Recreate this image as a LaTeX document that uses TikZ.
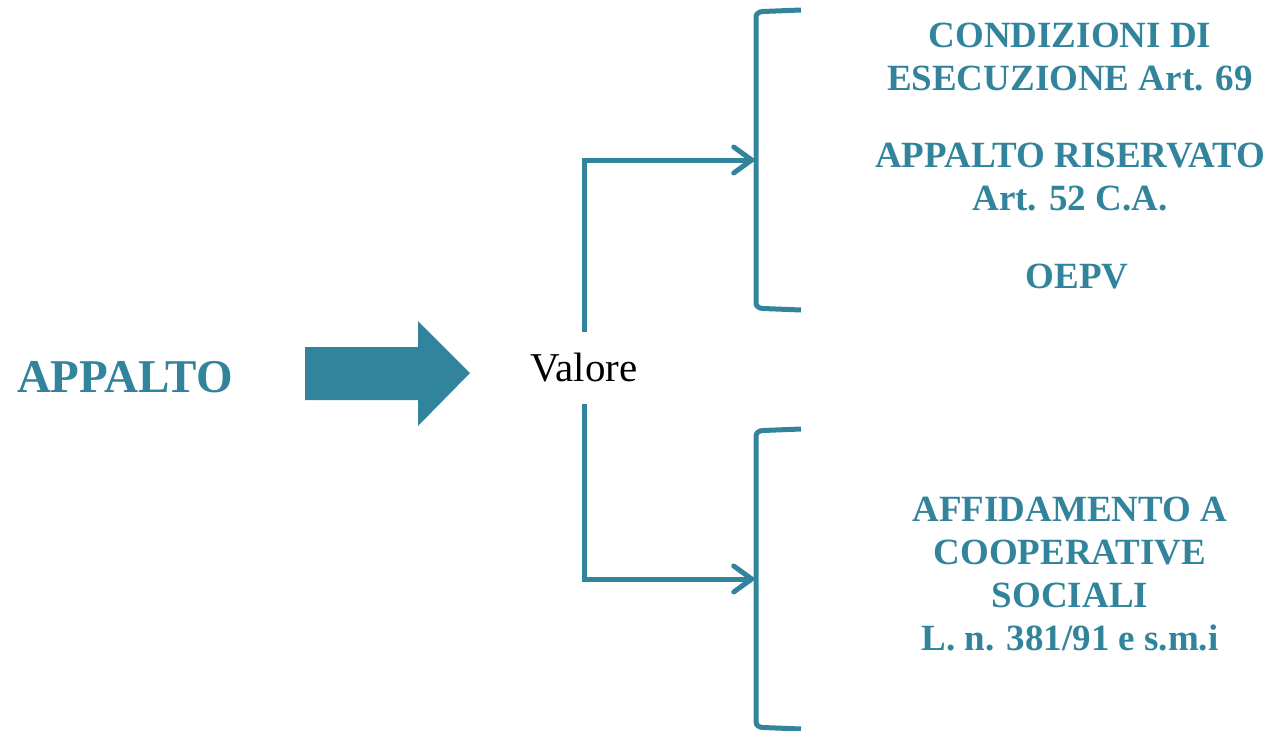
\documentclass[tikz,border=0pt]{standalone}
\usepackage{fontspec}
\setmainfont{Liberation Serif}
\usetikzlibrary{arrows.meta}
\definecolor{teal1}{RGB}{49,132,155}
\begin{document}
\begin{tikzpicture}[x=1pt,y=-1pt,
  conn/.style={draw=teal1,line width=5pt,-{Straight Barb[length=18pt,width=26pt,line cap=round]}},
  brk/.style={draw=teal1,line width=5pt},
  ttl/.style={text=teal1,font=\bfseries\fontsize{37}{43}\selectfont,align=center,inner sep=0pt}]
\useasboundingbox (0,0) rectangle (1270,731);
% left label
\node[text=teal1,font=\bfseries\fontsize{47}{50}\selectfont,inner sep=0pt] (appalto) at (125,377) {APPALTO};
% big arrow
\fill[teal1] (305,347) -- (418,347) -- (418,321) -- (470,373) -- (418,426) -- (418,400) -- (305,400) -- cycle;
\node[inner sep=0pt,minimum height=72pt,font=\fontsize{41}{42}\selectfont] (val) at (584,368) {Valore};
% brackets
\draw[brk] (801,10) -- (763,11.5) to[out=180,in=90] (756,17) -- (756,303) to[out=-90,in=180] (763,308.5) -- (801,310);
\draw[brk] (801,429) -- (763,430.5) to[out=180,in=90] (756,436) -- (756,722) to[out=-90,in=180] (763,727.5) -- (801,729);
\coordinate (b1) at (756,160);
\coordinate (b2) at (756,579);
\draw[conn] (val.north) |- (b1);
\draw[conn] (val.south) |- (b2);
% texts
\node[ttl] (t1) at (1070,57) {CONDIZIONI DI\\ESECUZIONE Art. 69};
\node[ttl] (t2) at (1070,177) {APPALTO RISERVATO\\Art. 52 C.A.};
\node[ttl] (t3) at (1077,277) {OEPV};
\node[ttl] (t4) at (1070,574) {AFFIDAMENTO A\\COOPERATIVE\\SOCIALI\\L. n. 381/91 e s.m.i};
\end{tikzpicture}
\end{document}
